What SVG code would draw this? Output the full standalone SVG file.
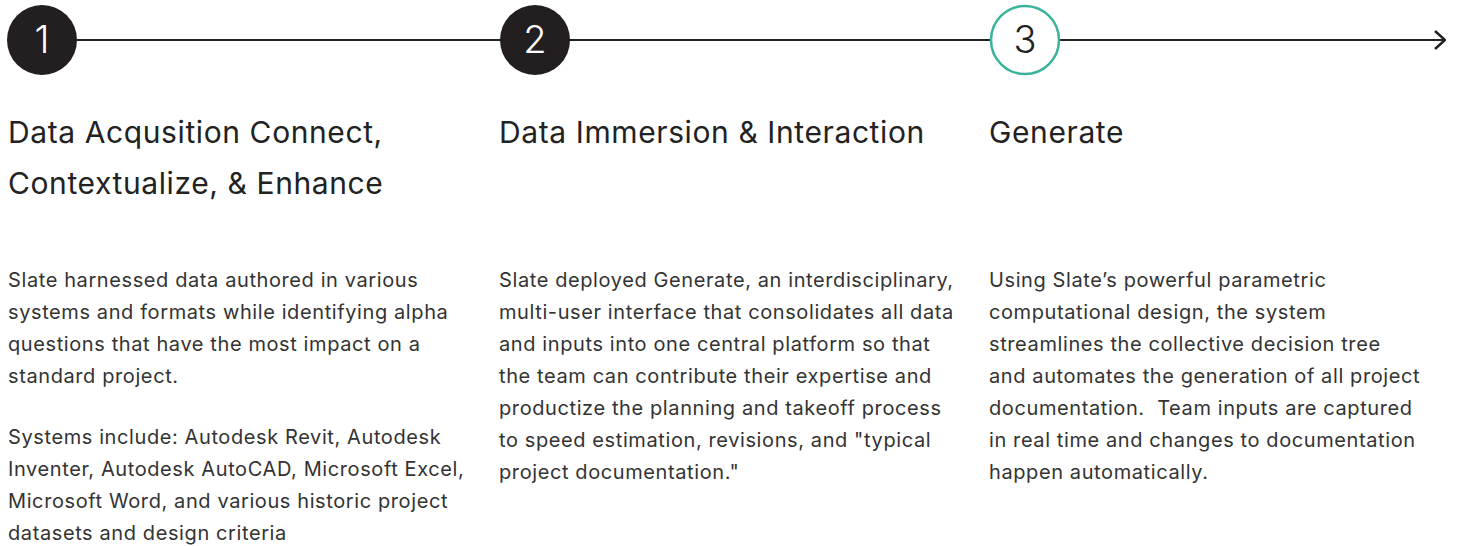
<svg xmlns="http://www.w3.org/2000/svg" width="1461" height="546" viewBox="0 0 1461 546">
<style>
.num{font-family:Inter,"Liberation Sans",sans-serif;font-size:38px;font-weight:300;text-anchor:middle}
.h{font-family:Inter,"Liberation Sans",sans-serif;font-size:30px;letter-spacing:0.6px;fill:#222}
.b{font-family:Inter,"Liberation Sans",sans-serif;font-size:20px;letter-spacing:0.6px;fill:#333;white-space:pre}
</style>
<defs>
<marker id="arr" viewBox="0 0 12 20" refX="11" refY="10" markerWidth="12" markerHeight="20" markerUnits="userSpaceOnUse" orient="auto">
<path d="M1,1 L11,10 L1,19" fill="none" stroke="#222" stroke-width="2.5"/>
</marker>
</defs>
<rect width="1461" height="546" fill="#fff"/>
<g id="connectors">
<line x1="77" y1="40" x2="1445" y2="40" stroke="#222" stroke-width="2.2" marker-end="url(#arr)"/>
</g>
<g id="step1">
<circle cx="42" cy="40" r="35" fill="#231f20"/>
<text class="num" x="42" y="53" fill="#fff">1</text>
<text class="h" x="8" y="143">Data Acqusition Connect,</text>
<text class="h" x="8" y="194">Contextualize, &amp; Enhance</text>
<text class="b" x="8" y="287">Slate harnessed data authored in various</text>
<text class="b" x="8" y="319">systems and formats while identifying alpha</text>
<text class="b" x="8" y="351">questions that have the most impact on a</text>
<text class="b" x="8" y="383">standard project.</text>
<text class="b" x="8" y="444">Systems include: Autodesk Revit, Autodesk</text>
<text class="b" x="8" y="476">Inventer, Autodesk AutoCAD, Microsoft Excel,</text>
<text class="b" x="8" y="508">Microsoft Word, and various historic project</text>
<text class="b" x="8" y="540">datasets and design criteria</text>
</g>
<g id="step2">
<circle cx="535" cy="40" r="35" fill="#231f20"/>
<text class="num" x="535" y="53" fill="#fff">2</text>
<text class="h" x="499" y="143">Data Immersion &amp; Interaction</text>
<text class="b" x="499" y="287">Slate deployed Generate, an interdisciplinary,</text>
<text class="b" x="499" y="319">multi-user interface that consolidates all data</text>
<text class="b" x="499" y="351">and inputs into one central platform so that</text>
<text class="b" x="499" y="383">the team can contribute their expertise and</text>
<text class="b" x="499" y="415">productize the planning and takeoff process</text>
<text class="b" x="499" y="447">to speed estimation, revisions, and "typical</text>
<text class="b" x="499" y="479">project documentation."</text>
</g>
<g id="step3">
<circle cx="1025" cy="40" r="34" fill="#fff" stroke="#3bb39b" stroke-width="2.5"/>
<text class="num" x="1025" y="53" fill="#222">3</text>
<text class="h" x="989" y="143">Generate</text>
<text class="b" x="989" y="287">Using Slate’s powerful parametric</text>
<text class="b" x="989" y="319">computational design, the system</text>
<text class="b" x="989" y="351">streamlines the collective decision tree</text>
<text class="b" x="989" y="383">and automates the generation of all project</text>
<text class="b" x="989" y="415" xml:space="preserve">documentation.  Team inputs are captured</text>
<text class="b" x="989" y="447">in real time and changes to documentation</text>
<text class="b" x="989" y="479">happen automatically.</text>
</g>
</svg>
